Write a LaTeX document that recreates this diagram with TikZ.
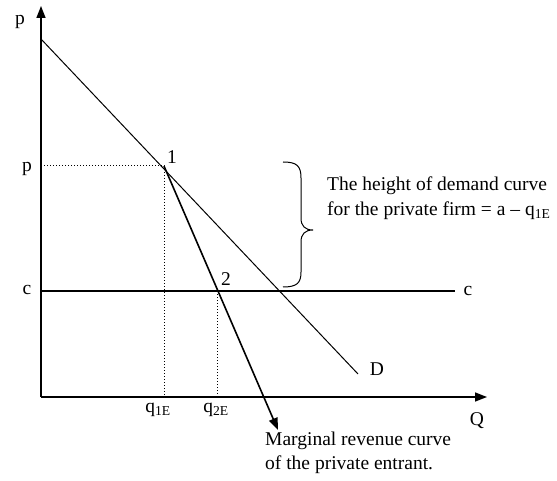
\documentclass[tikz,border=0pt]{standalone}
\usepackage{fontspec}
\setmainfont{Liberation Serif}
\usetikzlibrary{arrows.meta}
\tikzset{
  axisline/.style={line width=1.6pt, -{Triangle[length=12pt,width=9pt]}},
  guide/.style={dotted, line width=1pt},
  lbl/.style={inner sep=0pt, font=\fontsize{19.5}{24.5}\selectfont}
}
\begin{document}
\begin{tikzpicture}[x=1pt, y=-1pt]
    \useasboundingbox (0,0) rectangle (557,481);
    % points
    \coordinate (O) at (41,397);
    \coordinate (ytop) at (41,6);
    \coordinate (xend) at (487,397);
    \coordinate (dA) at (41,39);
    \coordinate (dEnd) at (358,374);
    \coordinate (pt1) at (164,166);
    \coordinate (pt2) at (217,291);
    \coordinate (mrEnd) at (278,430);
    \coordinate (cA) at (41,291);
    \coordinate (cEnd) at (455,291);
    \coordinate (pA) at (41,166);
    \coordinate (q1) at (164,397);
    \coordinate (q2) at (217,397);
    % axes
    \draw[axisline] (O) -- (ytop);
    \draw[axisline] (O) -- (xend);
    % demand, cost, marginal revenue
    \draw[line width=1pt] (dA) -- (dEnd);
    \draw[line width=1.6pt] (cA) -- (cEnd);
    \draw[axisline] (pt1) -- (mrEnd);
    % dotted guides
    \draw[guide] (pA) -- (pt1) -- (q1);
    \draw[guide] (pt2) -- (q2);
    % brace
    \draw[line width=1pt] (283,162) .. controls (297,162) and (301,166) .. (301,178)
      -- (301,218) .. controls (301,226) and (305,230) .. (313,230)
      .. controls (305,230) and (301,234) .. (301,242)
      -- (301,272) .. controls (301,283) and (297,287) .. (283,287);
    % labels
    \node[lbl] (lp) at (20,22) {p};
    \node[lbl] (lpp) at (27,169) {p};
    \node[lbl] (lc) at (27,290) {c};
    \node[lbl] (lcr) at (468,291) {c};
    \node[lbl] (l1) at (172,157) {1};
    \node[lbl] (l2) at (226,279) {2};
    \node[lbl] (lq1) at (158,410) {q\textsubscript{1E}};
    \node[lbl] (lq2) at (216,410) {q\textsubscript{2E}};
    \node[lbl] (lD) at (377,369) {D};
    \node[lbl] (lQ) at (477,421) {Q};
    \node[lbl, align=left, anchor=west] (lheight) at (327,198)
      {The height of demand curve\\for the private firm = a – q\textsubscript{1E}};
    \node[lbl, align=left, anchor=west] (lmr) at (265,453)
      {Marginal revenue curve\\of the private entrant.};
\end{tikzpicture}
\end{document}
